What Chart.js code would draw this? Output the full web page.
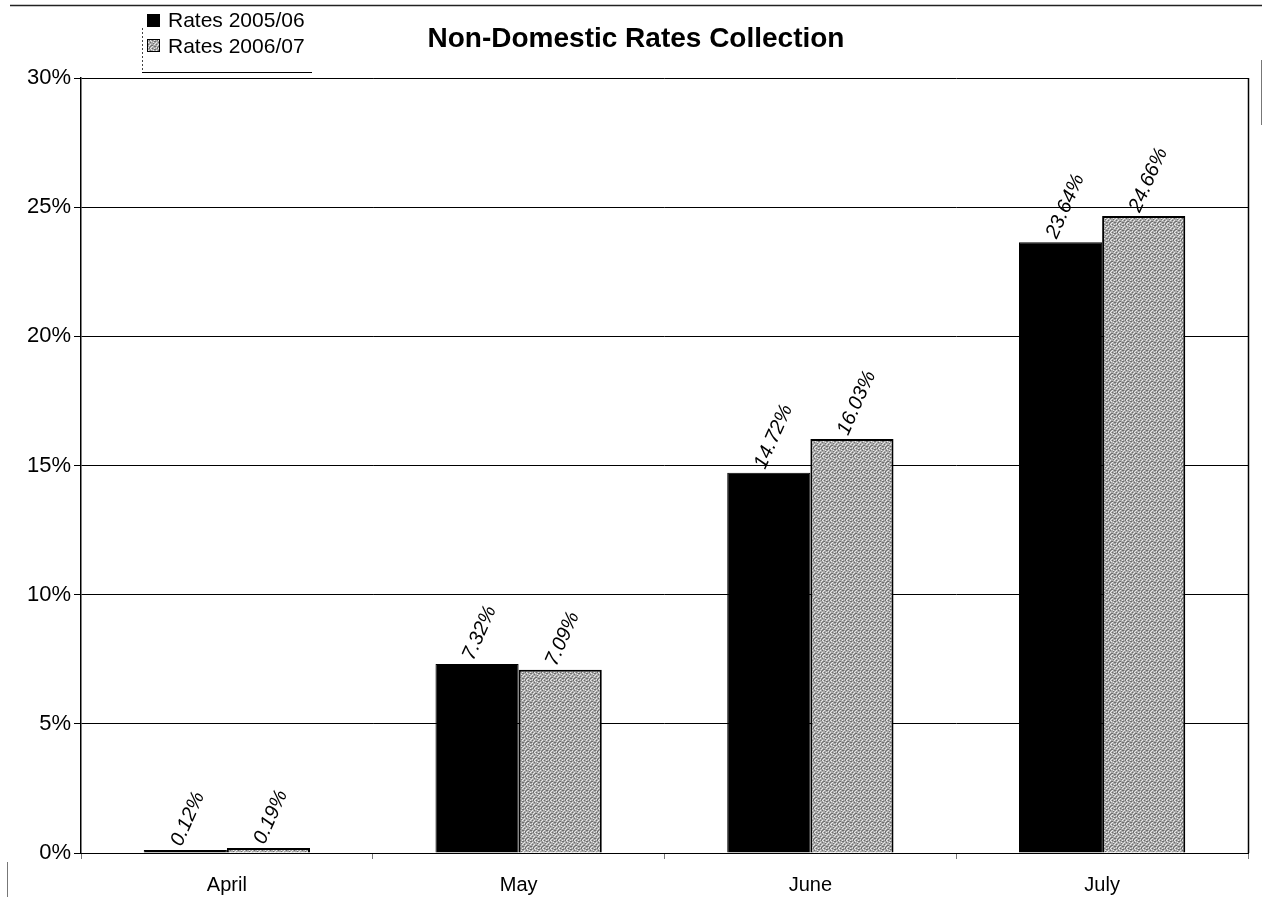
<!DOCTYPE html>
<html>
<head>
<meta charset="utf-8">
<script src="https://cdn.jsdelivr.net/npm/chart.js@4.4.1/dist/chart.umd.min.js"></script>
<style>
  html, body { margin: 0; padding: 0; background: #fff; }
  #wrap { width: 1266px; height: 897px; position: relative; }
</style>
</head>
<body>
<div id="wrap"><canvas id="c" width="1266" height="897"></canvas></div>
<script>
const months = ['April', 'May', 'June', 'July'];
const rates0506 = [0.12, 7.32, 14.72, 23.64];
const rates0607 = [0.19, 7.09, 16.03, 24.66];
const seriesNames = ['Rates 2005/06', 'Rates 2006/07'];
const chartTitle = 'Non-Domestic Rates Collection';

const FONT = '"Liberation Sans", Arial, sans-serif';

// Stippled grey fill for the second series
function stipple() {
  const c = document.createElement('canvas');
  c.width = 8; c.height = 8;
  const g = c.getContext('2d');
  g.fillStyle = '#aaaaaa';
  g.fillRect(0, 0, 8, 8);
  const dark = [[0,0],[3,1],[6,2],[1,3],[4,4],[7,5],[2,6],[5,7],[5,0],[0,5],[3,6],[6,6],[2,1]];
  const light = [[2,0],[7,1],[1,2],[4,2],[6,4],[0,6],[3,3],[7,7],[5,5],[2,4],[4,7],[6,0]];
  g.fillStyle = '#6e6e6e';
  dark.forEach(([x, y]) => g.fillRect(x, y, 1, 1));
  g.fillStyle = '#e8e8e8';
  light.forEach(([x, y]) => g.fillRect(x, y, 1, 1));
  return g.createPattern(c, 'repeat');
}
const greyFill = stipple();

const pct = v => v.toFixed(2) + '%';

// Value labels, rotated, above each bar
const valueLabels = {
  id: 'valueLabels',
  afterDatasetsDraw(chart) {
    const ctx = chart.ctx;
    ctx.save();
    ctx.font = 'italic 20px ' + FONT;
    ctx.fillStyle = '#000';
    ctx.textAlign = 'left';
    ctx.textBaseline = 'middle';
    chart.data.datasets.forEach((ds, di) => {
      chart.getDatasetMeta(di).data.forEach((bar, i) => {
        ctx.save();
        ctx.translate(bar.x - 9, bar.y - 5);
        ctx.rotate(-66 * Math.PI / 180);
        ctx.fillText(pct(ds.data[i]), 0, 0);
        ctx.restore();
      });
    });
    ctx.restore();
  }
};

// Frame, title and legend box
const decor = {
  id: 'decor',
  afterDraw(chart) {
    const ctx = chart.ctx;
    const a = chart.chartArea;
    ctx.save();
    // right edge of the plot area
    ctx.strokeStyle = '#000';
    ctx.lineWidth = 1.5;
    ctx.beginPath();
    ctx.moveTo(a.right + 0.5, a.top);
    ctx.lineTo(a.right + 0.5, a.bottom);
    ctx.stroke();
    // outer page frame lines
    ctx.lineWidth = 1.5;
    ctx.strokeStyle = '#222';
    ctx.beginPath();
    ctx.moveTo(10, 5.5); ctx.lineTo(1262, 5.5);
    ctx.stroke();
    ctx.lineWidth = 1;
    ctx.strokeStyle = '#777';
    ctx.beginPath();
    ctx.moveTo(1261.5, 60); ctx.lineTo(1261.5, 125);
    ctx.moveTo(7.5, 862); ctx.lineTo(7.5, 897);
    ctx.stroke();
    // title
    ctx.fillStyle = '#000';
    ctx.font = 'bold 28px ' + FONT;
    ctx.textAlign = 'center';
    ctx.textBaseline = 'middle';
    ctx.fillText(chartTitle, 636, 39);
    // legend box
    ctx.strokeStyle = '#444';
    ctx.lineWidth = 1;
    ctx.setLineDash([2, 2]);
    ctx.beginPath();
    ctx.moveTo(142.5, 28); ctx.lineTo(142.5, 72);
    ctx.stroke();
    ctx.setLineDash([]);
    ctx.strokeStyle = '#000';
    ctx.beginPath();
    ctx.moveTo(142, 72.5); ctx.lineTo(312, 72.5);
    ctx.stroke();
    ctx.fillStyle = '#000';
    ctx.fillRect(147, 14, 13, 13);
    ctx.fillStyle = greyFill;
    ctx.fillRect(147, 39, 13, 13);
    ctx.strokeStyle = '#000';
    ctx.strokeRect(147.5, 39.5, 12, 12);
    ctx.fillStyle = '#000';
    ctx.font = '21px ' + FONT;
    ctx.textAlign = 'left';
    ctx.fillText(seriesNames[0], 168, 21);
    ctx.fillText(seriesNames[1], 168, 47);
    ctx.restore();
  }
};

new Chart(document.getElementById('c'), {
  type: 'bar',
  data: {
    labels: months,
    datasets: [
      { label: seriesNames[0], data: rates0506, backgroundColor: '#000', borderColor: '#000', borderWidth: 1 },
      { label: seriesNames[1], data: rates0607, backgroundColor: greyFill, borderColor: '#000', borderWidth: 2 }
    ]
  },
  options: {
    responsive: false,
    animation: false,
    events: [],
    layout: { padding: { top: 78, right: 18, bottom: 0, left: 0 } },
    datasets: { bar: { categoryPercentage: 0.57, barPercentage: 1.0 } },
    plugins: { legend: { display: false }, title: { display: false }, tooltip: { enabled: false } },
    scales: {
      x: {
        offset: true,
        grid: { display: true, drawOnChartArea: false, offset: true, color: '#777', tickLength: 6 },
        border: { display: true, color: '#000', width: 1 },
        ticks: { color: '#000', font: { size: 20, family: FONT }, padding: 14, maxRotation: 0 },
        afterFit: s => { s.height = 44; }
      },
      y: {
        min: 0, max: 30,
        ticks: { stepSize: 5, color: '#000', font: { size: 22, family: FONT }, padding: 3, callback: v => v + '%' },
        grid: { color: '#000', lineWidth: 1, tickLength: 7 },
        border: { display: true, color: '#000', width: 1.5 },
        afterFit: s => { s.width = 81; }
      }
    }
  },
  plugins: [valueLabels, decor]
});
</script>
</body>
</html>
